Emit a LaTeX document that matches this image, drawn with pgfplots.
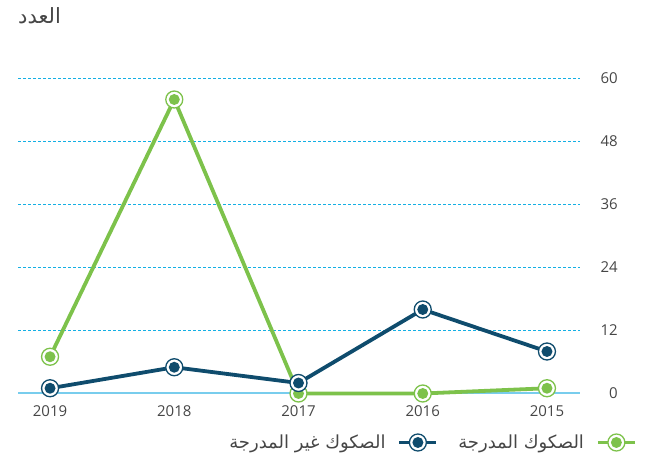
\documentclass[border=0pt]{standalone}
\usepackage{fontspec}
\setmainfont{Open Sans}
\newfontfamily\arabicfont[Script=Arabic]{DejaVu Sans}
\TeXXeTstate=1
\usepackage{pgfplots}
\pgfplotsset{compat=1.18}
\definecolor{cG}{RGB}{125,194,75}
\definecolor{cB}{RGB}{15,76,109}
\definecolor{cGrid}{RGB}{20,175,228}
\definecolor{cZero}{RGB}{120,205,237}
\definecolor{cTxt}{RGB}{70,70,70}
\pgfdeclareplotmark{ringG}{%
  \pgfsetlinewidth{1.3pt}\pgfsetstrokecolor{cG}\pgfsetfillcolor{white}%
  \pgfpathcircle{\pgfpointorigin}{8.5pt}\pgfusepath{fill,stroke}%
  \pgfsetfillcolor{cG}%
  \pgfpathcircle{\pgfpointorigin}{5.5pt}\pgfusepath{fill}}
\pgfdeclareplotmark{ringB}{%
  \pgfsetlinewidth{1.3pt}\pgfsetstrokecolor{cB}\pgfsetfillcolor{white}%
  \pgfpathcircle{\pgfpointorigin}{8.5pt}\pgfusepath{fill,stroke}%
  \pgfsetfillcolor{cB}%
  \pgfpathcircle{\pgfpointorigin}{5.5pt}\pgfusepath{fill}}
\begin{document}
\begin{tikzpicture}[x=1pt,y=1pt]
\useasboundingbox (0,0) rectangle (671,454);
\node[anchor=base west, inner sep=0pt, text=cTxt] at (18,430) {\arabicfont\fontsize{21}{25}\selectfont\beginR العدد\endR};
\begin{axis}[
  at={(18pt,60.5pt)}, anchor=south west,
  scale only axis, width=562pt, height=315pt,
  xmin=-0.258, xmax=4.266, ymin=0, ymax=60,
  axis line style={draw=none},
  tick style={draw=none},
  xtick={0,1,2,3,4},
  xticklabels={2019,2018,2017,2016,2015},
  ytick={12,24,36,48,60},
  extra y ticks={0},
  extra y tick style={major grid style={solid, cZero, line width=2pt}},
  ymajorgrids,
  major grid style={cGrid, line width=1pt, dash pattern=on 3pt off 2pt},
  yticklabel pos=right,
  /pgf/number format/assume math mode=true,
  yticklabel style={anchor=east, inner sep=0pt, xshift=38pt, font=\fontsize{15}{18}\selectfont, text=cTxt},
  xticklabel style={anchor=north, inner sep=0pt, yshift=-12pt, font=\fontsize{15}{18}\selectfont, text=cTxt},
  clip=false,
  reverse legend,
  legend columns=2,
  legend plot pos=right,
  legend image code/.code={\draw[mark repeat=2,mark phase=2,#1] plot coordinates {(0pt,0pt) (18.5pt,0pt) (37pt,0pt)};},
  legend style={at={(axis description cs:1,0)}, anchor=east, xshift=57pt, yshift=-49pt,
    draw=none, fill=none, inner sep=0pt, text=cTxt,
    font=\arabicfont\fontsize{18}{22}\selectfont,
    /tikz/every even column/.append style={column sep=18pt},
    /tikz/every odd column/.append style={column sep=10pt}},
]
\addplot[cG, line width=3.8pt, mark=ringG] coordinates {(0,7) (1,56) (2,0) (3,0) (4,1)};
\addlegendentry{\beginR الصكوك المدرجة\endR}
\addplot[cB, line width=3.8pt, mark=ringB] coordinates {(0,1) (1,5) (2,2) (3,16) (4,8)};
\addlegendentry{\beginR الصكوك غير المدرجة\endR}
\end{axis}
\end{tikzpicture}
\end{document}
